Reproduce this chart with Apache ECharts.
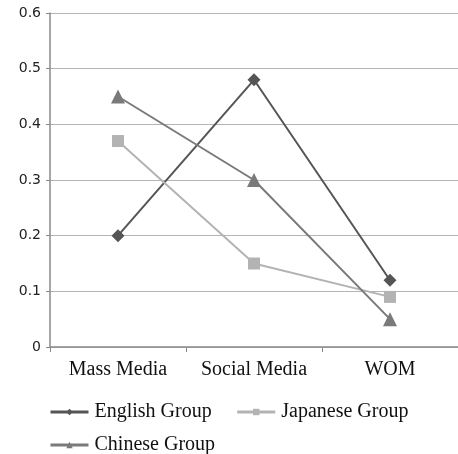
<!DOCTYPE html>
<html>
<head>
<meta charset="utf-8">
<script src="https://cdn.jsdelivr.net/npm/echarts@6/dist/echarts.min.js"></script>
<style>
  html, body { margin: 0; padding: 0; background: #fff; }
  #chart { width: 458px; height: 454px; }
</style>
</head>
<body>
<div id="chart"></div>
<script>
// Channels compared across the three groups
const categories = ['Mass Media', 'Social Media', 'WOM'];
const englishGroup = [0.20, 0.48, 0.12];
const japaneseGroup = [0.37, 0.15, 0.09];
const chineseGroup = [0.45, 0.30, 0.05];
const yTicks = [0, 0.1, 0.2, 0.3, 0.4, 0.5, 0.6];

const serif = '"Liberation Serif", "DejaVu Serif", serif';
const sans = '"DejaVu Sans", Verdana, sans-serif';

const chart = echarts.init(document.getElementById('chart'), null, { renderer: 'canvas' });

function lineSeries(name, data, color, symbol, size) {
  return {
    name: name,
    type: 'line',
    data: data,
    symbol: symbol,
    symbolSize: size,
    showAllSymbol: true,
    lineStyle: { color: color, width: 2 },
    itemStyle: { color: color },
    emphasis: { disabled: true },
    animation: false
  };
}

const legendText = { fontFamily: serif, fontSize: 20, color: '#111', padding: [0, 0, 0, 1] };

chart.setOption({
  animation: false,
  grid: { left: 50, right: 0, top: 13, bottom: 107, containLabel: false },
  xAxis: {
    type: 'category',
    data: categories,
    boundaryGap: true,
    axisLine: { lineStyle: { color: '#8a8a8a', width: 1.5 } },
    axisTick: { show: true, interval: 0, length: 5, lineStyle: { color: '#8a8a8a' } },
    axisLabel: {
      interval: 0, hideOverlap: false,
      fontFamily: serif, fontSize: 20, color: '#111', margin: 13
    }
  },
  yAxis: {
    type: 'value',
    min: yTicks[0],
    max: yTicks[yTicks.length - 1],
    interval: 0.1,
    axisLine: { show: true, lineStyle: { color: '#8a8a8a', width: 1.5 } },
    axisTick: { show: true, length: 4, lineStyle: { color: '#8a8a8a' } },
    splitLine: { lineStyle: { color: '#b4b4b4', width: 1 } },
    axisLabel: {
      fontFamily: sans, fontSize: 14, color: '#222', margin: 9,
      formatter: v => String(Math.round(v * 10) / 10)
    }
  },
  legend: [
    {
      data: ['English Group', 'Japanese Group'],
      left: 44, top: 397,
      itemWidth: 38, itemHeight: 8, itemGap: 24,
      lineStyle: { width: 3 },
      textStyle: legendText
    },
    {
      data: ['Chinese Group'],
      left: 44, top: 430,
      itemWidth: 38, itemHeight: 8,
      lineStyle: { width: 3 },
      textStyle: legendText
    }
  ],
  series: [
    lineSeries('English Group', englishGroup, '#555555', 'diamond', 13),
    lineSeries('Japanese Group', japaneseGroup, '#b3b3b3', 'rect', 12),
    lineSeries('Chinese Group', chineseGroup, '#7a7a7a', 'triangle', 14)
  ]
});
</script>
</body>
</html>
